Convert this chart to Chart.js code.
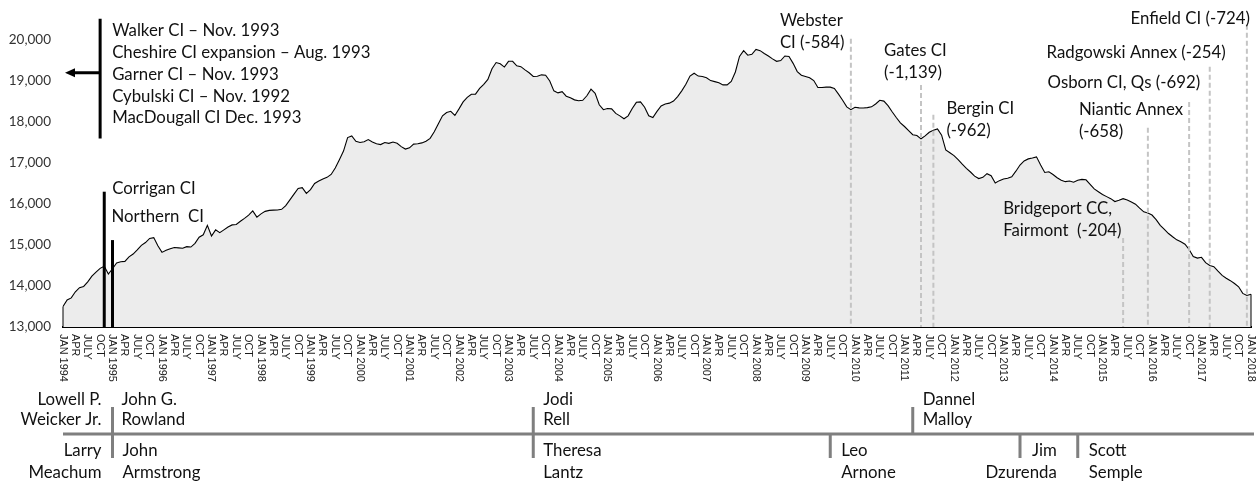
<!DOCTYPE html>
<html>
<head>
<meta charset="utf-8">
<title>Connecticut prison population, 1994-2018</title>
<script src="https://cdn.jsdelivr.net/npm/chart.js@4.4.1/dist/chart.umd.min.js"></script>
<style>
  html, body { margin: 0; padding: 0; background: #fff; }
  canvas { display: block; }
</style>
</head>
<body>
<canvas id="population" width="1257" height="481"></canvas>
<script>
const years = [1994, 1995, 1996, 1997, 1998, 1999, 2000, 2001, 2002, 2003, 2004, 2005,
  2006, 2007, 2008, 2009, 2010, 2011, 2012, 2013, 2014, 2015, 2016, 2017, 2018];
const quarterNames = ['JAN', 'APR', 'JULY', 'OCT'];

// monthly population, JAN 1994 .. JAN 2018
const population = [
  13500, 13660, 13710, 13860, 13960, 13990, 14100, 14240, 14340, 14430, 14480, 14290, // 1994
  14420, 14560, 14590, 14600, 14710, 14780, 14880, 14990, 15060, 15160, 15180, 14980, // 1995
  14820, 14870, 14910, 14940, 14930, 14920, 14960, 14950, 15040, 15190, 15250, 15480, // 1996
  15220, 15370, 15300, 15370, 15440, 15490, 15500, 15580, 15650, 15730, 15830, 15680, // 1997
  15760, 15820, 15845, 15850, 15855, 15870, 15960, 16100, 16240, 16380, 16400, 16260, // 1998
  16350, 16500, 16560, 16610, 16650, 16720, 16880, 17080, 17290, 17620, 17660, 17530, // 1999
  17500, 17520, 17570, 17510, 17470, 17450, 17500, 17480, 17510, 17480, 17400, 17340, // 2000
  17370, 17460, 17470, 17490, 17530, 17600, 17760, 17960, 18150, 18230, 18260, 18160, // 2001
  18320, 18490, 18600, 18675, 18680, 18820, 18920, 19040, 19300, 19450, 19420, 19340, // 2002
  19480, 19480, 19370, 19350, 19270, 19200, 19110, 19115, 19150, 19140, 19000, 18760, // 2003
  18710, 18740, 18630, 18590, 18540, 18520, 18530, 18640, 18800, 18700, 18420, 18300, // 2004
  18330, 18320, 18210, 18150, 18080, 18150, 18330, 18480, 18490, 18360, 18150, 18110, // 2005
  18260, 18390, 18440, 18460, 18510, 18620, 18760, 18920, 19120, 19190, 19120, 19110, // 2006
  19080, 19010, 18985, 18955, 18905, 18905, 18990, 19220, 19600, 19740, 19630, 19650, // 2007
  19770, 19740, 19670, 19610, 19540, 19480, 19500, 19610, 19600, 19430, 19230, 19140, // 2008
  19110, 19080, 19010, 18840, 18840, 18850, 18850, 18820, 18680, 18530, 18370, 18300, // 2009
  18360, 18345, 18340, 18350, 18370, 18440, 18530, 18510, 18400, 18250, 18110, 17980, // 2010
  17890, 17790, 17690, 17670, 17590, 17660, 17750, 17800, 17830, 17680, 17320, 17250, // 2011
  17180, 17080, 16970, 16870, 16780, 16680, 16620, 16650, 16740, 16690, 16510, 16570, // 2012
  16610, 16630, 16665, 16800, 16950, 17050, 17100, 17120, 17150, 16950, 16770, 16785, // 2013
  16720, 16640, 16580, 16545, 16560, 16530, 16580, 16600, 16590, 16480, 16370, 16300, // 2014
  16230, 16180, 16130, 16060, 16090, 16130, 16100, 16050, 15995, 15900, 15810, 15780, // 2015
  15730, 15620, 15480, 15380, 15280, 15200, 15125, 15080, 15020, 14890, 14720, 14680, // 2016
  14700, 14570, 14500, 14470, 14360, 14260, 14190, 14130, 14060, 13980, 13820, 13770, // 2017
  13800,                                                                               // 2018
];

const monthLabels = population.map((_, i) => {
  const month = i % 12;
  if (month === 0) return `JAN ${years[i / 12]}`;
  return month % 3 === 0 ? quarterNames[month / 3] : '';
});

// facilities opened before the chart starts
const earlyOpenings = [
  'Walker CI – Nov. 1993',
  'Cheshire CI expansion – Aug. 1993',
  'Garner CI – Nov. 1993',
  'Cybulski CI – Nov. 1992',
  'MacDougall CI Dec. 1993',
];

// at = month index from JAN 1994, top = value where the marker line stops
const openings = [
  { at: 10, top: 16300, lines: ['Corrigan CI'], textAt: 16370, dx: 8 },
  { at: 12, top: 15120, lines: ['Northern  CI'], textAt: 15690, dx: -1 },
];

const closings = [
  { at: 191, top: 20030, lines: ['Webster', 'CI (-584)'], textAt: 20470, dx: -71, align: 'left' },
  { at: 208, top: 18900, lines: ['Gates CI', '(-1,139)'], textAt: 19740, dx: -37, align: 'left' },
  { at: 211, top: 18175, lines: ['Bergin CI', '(-962)'], textAt: 18320, dx: 13, align: 'left' },
  { at: 257, top: 15170, lines: ['Bridgeport CC,', 'Fairmont  (-204)'], textAt: 15880, dx: -120, align: 'left' },
  { at: 263, top: 17860, lines: ['Niantic Annex', '(-658)'], textAt: 18300, dx: -69, align: 'left' },
  { at: 273, top: 18490, lines: ['Osborn CI, Qs (-692)'], textAt: 18960, dx: 11, align: 'right' },
  { at: 278, top: 19350, lines: ['Radgowski Annex (-254)'], textAt: 19690, dx: 16, align: 'right' },
  { at: 287, top: 20370, lines: ['Enfield CI (-724)'], textAt: 20520, dx: 3, align: 'right' },
];

// timeline below the axis: governors above the bar, DOC commissioners below
const governors = [
  { at: 12, dx: -11, align: 'right', lines: ['Lowell P.', 'Weicker Jr.'] },
  { at: 12, dx: 9, align: 'left', lines: ['John G.', 'Rowland'] },
  { at: 114, dx: 10, align: 'left', lines: ['Jodi', 'Rell'] },
  { at: 206, dx: 10, align: 'left', lines: ['Dannel', 'Malloy'] },
];
const governorChanges = [12, 114, 206];

const commissioners = [
  { at: 12, dx: -11, align: 'right', lines: ['Larry', 'Meachum'] },
  { at: 12, dx: 10, align: 'left', lines: ['John', 'Armstrong'] },
  { at: 114, dx: 10, align: 'left', lines: ['Theresa', 'Lantz'] },
  { at: 186, dx: 11, align: 'left', lines: ['Leo', 'Arnone'] },
  { at: 246, dx: -21, align: 'right', lines: ['Jim', 'Dzurenda'] },
  { at: 246, dx: 11, align: 'left', lines: ['Scott', 'Semple'] },
];
const commissionerChanges = [12, 114, 186, 232, 246];

const TEXT_FONT = '16.8px Lato';
const TEXT_COLOR = '#111';
const ROW = 21.5;

const drawLines = (ctx, lines, x, y, align, step = ROW) => {
  ctx.textAlign = align;
  lines.forEach((line, i) => ctx.fillText(line, x, y + i * step));
};

const annotations = {
  id: 'annotations',
  afterDatasetsDraw(chart) {
    const { ctx, scales: { x, y } } = chart;
    const base = y.getPixelForValue(13000);

    ctx.save();

    // closed sides of the area outline
    ctx.strokeStyle = '#000';
    ctx.lineWidth = 1;
    ctx.beginPath();
    [0, population.length - 1].forEach((i) => {
      ctx.moveTo(x.getPixelForValue(i), base);
      ctx.lineTo(x.getPixelForValue(i), y.getPixelForValue(population[i]));
    });
    ctx.stroke();

    ctx.font = TEXT_FONT;
    ctx.fillStyle = TEXT_COLOR;
    ctx.textBaseline = 'middle';

    // closings: dashed grey
    ctx.strokeStyle = '#c4c4c4';
    ctx.lineWidth = 2;
    ctx.setLineDash([5, 3]);
    closings.forEach(({ at, top, lines, textAt, dx, align }) => {
      const px = x.getPixelForValue(at);
      ctx.beginPath();
      ctx.moveTo(px, y.getPixelForValue(top));
      ctx.lineTo(px, base);
      ctx.stroke();
      drawLines(ctx, lines, px + dx, y.getPixelForValue(textAt), align);
    });
    ctx.setLineDash([]);

    // openings: solid black
    ctx.strokeStyle = '#000';
    ctx.lineWidth = 3;
    openings.forEach(({ at, top, lines, textAt, dx }) => {
      const px = x.getPixelForValue(at);
      ctx.beginPath();
      ctx.moveTo(px, y.getPixelForValue(top));
      ctx.lineTo(px, base);
      ctx.stroke();
      drawLines(ctx, lines, px + dx, y.getPixelForValue(textAt), 'left');
    });

    // bracket with arrow for the pre-1994 openings
    const bx = x.getPixelForValue(9);
    const arrowY = y.getPixelForValue(19200);
    const tipX = x.getPixelForValue(0) + 2;
    ctx.beginPath();
    ctx.moveTo(bx, y.getPixelForValue(20520));
    ctx.lineTo(bx, y.getPixelForValue(17600));
    ctx.moveTo(bx, arrowY);
    ctx.lineTo(tipX + 8, arrowY);
    ctx.stroke();
    ctx.fillStyle = '#000';
    ctx.beginPath();
    ctx.moveTo(tipX, arrowY);
    ctx.lineTo(tipX + 10, arrowY - 4.5);
    ctx.lineTo(tipX + 10, arrowY + 4.5);
    ctx.closePath();
    ctx.fill();
    ctx.fillStyle = TEXT_COLOR;
    drawLines(ctx, earlyOpenings, bx + 12, y.getPixelForValue(20225), 'left', 21.8);

    ctx.restore();
  },
  afterDraw(chart) {
    const { ctx, scales: { x }, chartArea } = chart;
    const bottom = chartArea.bottom;

    ctx.save();

    // month tick labels, reading downwards
    ctx.font = '10.9px "Liberation Sans"';
    ctx.fillStyle = '#1a1a1a';
    ctx.textAlign = 'left';
    ctx.textBaseline = 'middle';
    monthLabels.forEach((label, i) => {
      if (!label) return;
      ctx.save();
      ctx.translate(x.getPixelForValue(i) - 0.5, bottom + 7);
      ctx.rotate(Math.PI / 2);
      ctx.fillText(label, 0, 0);
      ctx.restore();
    });

    // timeline bar
    const barY = bottom + 107;
    ctx.strokeStyle = '#7f7f7f';
    ctx.lineWidth = 3;
    ctx.beginPath();
    ctx.moveTo(x.getPixelForValue(0), barY);
    ctx.lineTo(x.getPixelForValue(population.length - 1) + 3, barY);
    governorChanges.forEach((at) => {
      ctx.moveTo(x.getPixelForValue(at), barY - 27);
      ctx.lineTo(x.getPixelForValue(at), barY);
    });
    commissionerChanges.forEach((at) => {
      ctx.moveTo(x.getPixelForValue(at), barY);
      ctx.lineTo(x.getPixelForValue(at), barY + 24);
    });
    ctx.stroke();

    ctx.font = TEXT_FONT;
    ctx.fillStyle = TEXT_COLOR;
    governors.forEach(({ at, dx, align, lines }) => {
      drawLines(ctx, lines, x.getPixelForValue(at) + dx, bottom + 73, align, 19.5);
    });
    commissioners.forEach(({ at, dx, align, lines }) => {
      drawLines(ctx, lines, x.getPixelForValue(at) + dx, bottom + 124, align, 22);
    });

    ctx.restore();
  },
};

new Chart(document.getElementById('population'), {
  type: 'line',
  data: {
    labels: monthLabels,
    datasets: [{
      data: population,
      fill: 'start',
      backgroundColor: '#ececec',
      borderColor: '#000',
      borderWidth: 1.1,
      pointRadius: 0,
      tension: 0,
    }],
  },
  options: {
    responsive: false,
    animation: false,
    devicePixelRatio: 1,
    layout: { padding: { top: 40, right: 6, bottom: 154, left: 0 } },
    plugins: {
      legend: { display: false },
      tooltip: { enabled: false },
    },
    scales: {
      x: {
        offset: false,
        afterFit: (scale) => { scale.height = 0; },
        grid: { display: false, drawTicks: false },
        border: { display: true, color: '#000', width: 2 },
        ticks: { display: false },
      },
      y: {
        min: 13000,
        max: 20000,
        afterFit: (scale) => { scale.width = 63; },
        grid: { display: false, drawTicks: false },
        border: { display: false },
        ticks: {
          stepSize: 1000,
          padding: 12,
          color: '#333',
          font: { family: 'Lato', size: 13.5 },
        },
      },
    },
  },
  plugins: [annotations],
});
</script>
</body>
</html>
